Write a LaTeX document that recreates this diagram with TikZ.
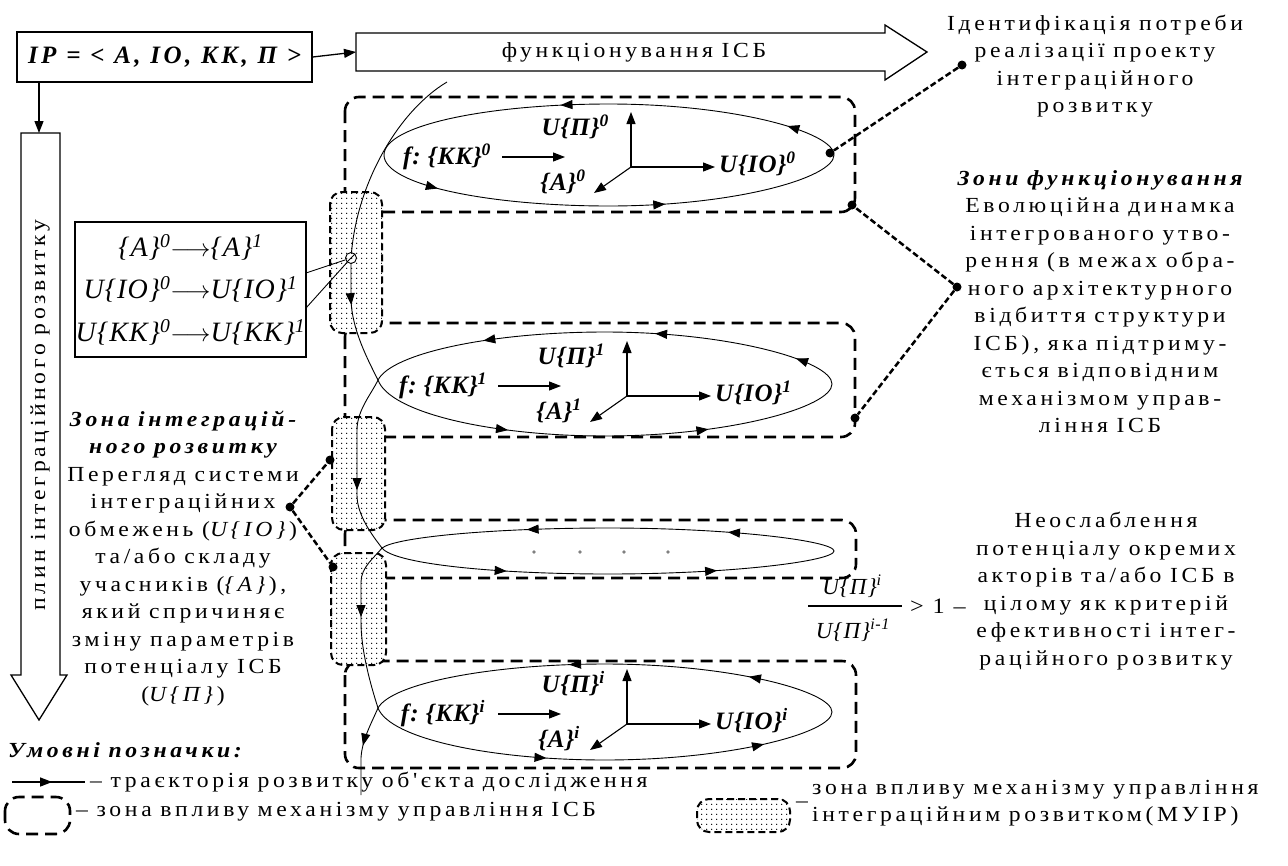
\documentclass[tikz,border=0pt]{standalone}
\usepackage{fontspec}
\setmainfont{Liberation Serif}
\newfontfamily\rf[LetterSpace=17,FakeStretch=1.1,WordSpace=0.9]{Liberation Serif}
\newfontfamily\mf[LetterSpace=14]{Liberation Serif}
\newfontfamily\lf[LetterSpace=4]{Liberation Serif}
\usetikzlibrary{arrows.meta,patterns,decorations.markings}
\pgfdeclarepatternformonly{mydots}{\pgfpointorigin}{\pgfpoint{5pt}{5pt}}{\pgfpoint{5pt}{5pt}}%
  {\pgfpathcircle{\pgfpoint{2pt}{2pt}}{0.8pt}\pgfusepath{fill}}
\newcommand\sps[1]{\textsuperscript{#1}}
\newcommand\loopinside[2]{%
  \node[lab] (fk#2) at (-162,2) {f:~\{KK\}\sps{#1}};
  \coordinate (ka#2) at (-107,2); \coordinate (kb#2) at (-44,2);
  \draw[ax] (ka#2) -- (kb#2);
  \node[lab, anchor=east] (up#2) at (0,-28) {U\{П\}\sps{#1}};
  \coordinate (o#2) at (22,12);
  \coordinate (ov#2) at (22,-43);
  \coordinate (oh#2) at (106,12);
  \coordinate (od#2) at (-15,38);
  \draw[ax] (o#2) -- (ov#2);
  \draw[ax] (o#2) -- (oh#2);
  \draw[ax] (o#2) -- (od#2);
  \node[lab] (a#2) at (-46,27) {\{A\}\sps{#1}};
  \node[lab, anchor=west] (io#2) at (110,9) {U\{IO\}\sps{#1}};
}
\begin{document}
\begin{tikzpicture}[x=1pt,y=-1pt,
  >={Triangle[length=12pt,width=9pt]},
  txt/.style={font=\rf\fontsize{21.5}{27.5}\selectfont, align=center, inner sep=0pt},
  lab/.style={font=\lf\bfseries\itshape\fontsize{25}{26}\selectfont, inner sep=0pt},
  zone/.style={draw, line width=2.6pt, dash pattern=on 12pt off 7pt, rounded corners=14pt},
  mz/.style={draw, line width=2pt, dash pattern=on 7pt off 4pt, rounded corners=12pt, fill=white, postaction={pattern=mydots}},
  traj/.style={line width=0.9pt},
  conn/.style={line width=2.5pt, dash pattern=on 6pt off 3pt},
  dot/.style={circle, fill, inner sep=0pt, minimum size=9pt},
  ax/.style={line width=1.1pt, ->},
  blk/.style={line width=1.3pt},
]
\useasboundingbox (0,0) rectangle (1288,865);

% ---------- top box and block arrows
\node[draw, blk, minimum width=295pt, minimum height=50pt, inner sep=0pt,
      font=\mf\bfseries\itshape\fontsize{25}{25}\selectfont] (ip) at (164.5,57) {IP = < A, IO, KK, П >};
\draw[blk] (356,33) -- (885,33) -- (885,25) -- (927,52) -- (885,80) -- (885,71) -- (356,71) -- cycle;
\node[txt] (fun) at (634,52) {функціонування ІСБ};
\coordinate (funw) at (356,52);
\draw[blk,->] (ip.east) -- (funw);

\draw[blk] (21,133) -- (60,133) -- (60,675) -- (67,675) -- (39,720) -- (11,675) -- (21,675) -- cycle;
\node[txt, rotate=90] (plyn) at (40,415) {плин інтеграційного розвитку};
\coordinate (ipd) at (39,82); \coordinate (plt) at (39,133);
\draw[blk,->] (ipd) -- (plt);

% ---------- dashed zones
\draw[zone] (345,97) rectangle (855,212);
\draw[zone] (345,323) rectangle (855,437);
\draw[zone] (345,520) rectangle (856,578);
\draw[zone] (345,661) rectangle (856,768);

% ---------- MUIR zones
\path[mz] (330,192) rectangle (382,333);
\path[mz] (332,417) rectangle (385,530);
\path[mz] (331,553) rectangle (386,665);

% ---------- transitions box
\node[draw, blk, minimum width=231pt, minimum height=135pt, inner sep=0pt, align=center,
      font=\lf\itshape\fontsize{28}{42.5}\selectfont] (trans) at (190.5,289.5)
 {\{A\}\sps{0}$\longrightarrow$\{A\}\sps{1}\\
  U\{IO\}\sps{0}$\longrightarrow$U\{IO\}\sps{1}\\
  U\{KK\}\sps{0}$\longrightarrow$U\{KK\}\sps{1}};
\node[circle, draw, line width=0.9pt, minimum size=11pt, inner sep=0pt] (cir) at (351,258) {};
\draw[line width=0.8pt] (cir.north east) -- (cir.south west);
\coordinate (tr1) at (306,273); \coordinate (tr2) at (306,308);
\draw[line width=0.9pt] (tr1) -- (cir);
\draw[line width=0.9pt] (tr2) -- (cir);

% ---------- loop 0
\begin{scope}[shift={(609,155)}]
\draw[traj, postaction=decorate, decoration={markings,
  mark=at position 0.07 with {\arrow{>}},
  mark=at position 0.31 with {\arrow{>}},
  mark=at position 0.56 with {\arrow{>}},
  mark=at position 0.80 with {\arrow{>}}}]
 (-225,0) .. controls (-225,30) and (-120,51) .. (0,51)
 .. controls (125,51) and (225,23) .. (225,0)
 .. controls (225,-23) and (125,-51) .. (0,-51)
 .. controls (-120,-51) and (-225,-30) .. (-225,0);
\loopinside{0}{0}
\end{scope}

% ---------- loop 1
\begin{scope}[shift={(605,384)}]
\draw[traj, postaction=decorate, decoration={markings,
  mark=at position 0.15 with {\arrow{>}},
  mark=at position 0.36 with {\arrow{>}},
  mark=at position 0.55 with {\arrow{>}},
  mark=at position 0.70 with {\arrow{>}},
  mark=at position 0.88 with {\arrow{>}}}]
 (-227,-4) .. controls (-215,29) and (-113,52) .. (0,52)
 .. controls (125,52) and (227,23) .. (227,0)
 .. controls (227,-23) and (125,-52) .. (0,-52)
 .. controls (-113,-52) and (-213,-31) .. (-227,-4);
\loopinside{1}{1}
\end{scope}

% ---------- loop C (dots)
\begin{scope}[shift={(608,551)}]
\draw[traj, postaction=decorate, decoration={markings,
  mark=at position 0.14 with {\arrow{>}},
  mark=at position 0.37 with {\arrow{>}},
  mark=at position 0.62 with {\arrow{>}},
  mark=at position 0.84 with {\arrow{>}}}]
 (-226,-3) .. controls (-214,13) and (-113,23) .. (0,23)
 .. controls (124,23) and (226,10) .. (226,0)
 .. controls (226,-10) and (124,-23) .. (0,-23)
 .. controls (-113,-23) and (-212,-14) .. (-226,-3);
\foreach \i/\xx in {1/-74,2/-28,3/16,4/60} \fill[gray] (\xx,1) circle (1.8);
\end{scope}

% ---------- loop i
\begin{scope}[shift={(605,712)}]
\draw[traj, postaction=decorate, decoration={markings,
  mark=at position 0.19 with {\arrow{>}},
  mark=at position 0.42 with {\arrow{>}},
  mark=at position 0.60 with {\arrow{>}},
  mark=at position 0.79 with {\arrow{>}}}]
 (-227,-4) .. controls (-215,27) and (-113,48) .. (0,48)
 .. controls (125,48) and (227,21) .. (227,0)
 .. controls (227,-21) and (125,-48) .. (0,-48)
 .. controls (-113,-48) and (-213,-29) .. (-227,-4);
\loopinside{i}{i}
\end{scope}

% ---------- trajectory connections
\coordinate (t0s) at (447,82);
\coordinate (X1) at (378,380);
\coordinate (XC) at (382,548);
\coordinate (Xi) at (378,708);
\coordinate (tend) at (361,795);
\draw[traj] (t0s) .. controls (400,110) and (358,180) .. (cir);
\draw[traj, postaction=decorate, decoration={markings, mark=at position 0.34 with {\arrow{>}}}]
  (cir.south) -- (351,300) .. controls (352,330) and (368,360) .. (X1);
\draw[traj, postaction=decorate, decoration={markings, mark=at position 0.64 with {\arrow{>}}}]
  (X1) .. controls (372,393) and (357,410) .. (357,430) -- (357,495) .. controls (357,515) and (372,535) .. (XC);
\draw[traj, postaction=decorate, decoration={markings, mark=at position 0.45 with {\arrow{>}}}]
  (XC) .. controls (375,557) and (361,567) .. (361,582) -- (361,622) .. controls (361,650) and (370,683) .. (Xi);
\draw[traj, postaction=decorate, decoration={markings, mark=at position 0.45 with {\arrow{>}}}]
  (Xi) .. controls (371,724) and (362,740) .. (361,758) -- (tend);

% ---------- right texts
\node[txt] (ident) at (1095,66) {Ідентифікація потреби\\реалізації проекту\\інтеграційного\\розвитку};
\node[txt] (zf) at (1100,301.5) {{\bfseries\itshape Зони функціонування}\\Еволюційна динамка\\інтегрованого утво-\\рення (в межах обра-\\ного архітектурного\\відбиття структури\\ІСБ), яка підтриму-\\ється відповідним\\механізмом управ-\\ління ІСБ};
\node[txt] (neo) at (1106,591) {Неослаблення\\потенціалу окремих\\акторів та/або ІСБ в\\цілому як критерій\\ефективності інтег-\\раційного розвитку};

% fraction
\node[font=\lf\itshape\fontsize{23}{23}\selectfont, inner sep=0pt] (num) at (852,586) {U\{П\}\sps{i}};
\node[font=\lf\itshape\fontsize{23}{23}\selectfont, inner sep=0pt] (den) at (853,630) {U\{П\}\sps{i-1}};
\coordinate (fb1) at (808,606); \coordinate (fb2) at (902,606);
\draw[line width=1.2pt] (fb1) -- (fb2);
\node[font=\rf\fontsize{22}{22}\selectfont, anchor=west, inner sep=0pt] (gt) at (910,606) {> 1 –};

% ---------- left text
\node[txt] (zir) at (183,558.5) {{\bfseries\itshape Зона інтеграцій-}\\{\bfseries\itshape ного розвитку}\\Перегляд системи\\інтеграційних\\обмежень (\textit{U\{IO\}})\\та/або складу\\учасників (\textit{\{A\}}),\\який спричиняє\\зміну параметрів\\потенціалу ІСБ\\(\textit{U\{П\}})};

% ---------- dotted connectors
\node[dot] (di1) at (962,65) {};
\node[dot] (di2) at (830,153) {};
\draw[conn] (di1) -- (di2);
\node[dot] (dz) at (957,287) {};
\node[dot] (dzA) at (852,205) {};
\node[dot] (dzB) at (855,418) {};
\draw[conn] (dz) -- (dzA);
\draw[conn] (dz) -- (dzB);
\node[dot] (dl) at (290,507) {};
\node[dot] (dl1) at (330,460) {};
\node[dot] (dl2) at (333,567) {};
\draw[conn] (dl) -- (dl1);
\draw[conn] (dl) -- (dl2);

% ---------- legend
\node[font=\rf\bfseries\itshape\fontsize{21.5}{24}\selectfont, anchor=west, inner sep=0pt] (leg) at (8,750) {Умовні позначки:};
\coordinate (la) at (12,782); \coordinate (lb) at (85,782);
\draw[line width=1.2pt, postaction=decorate, decoration={markings, mark=at position 0.55 with {\arrow{>}}}] (la) -- (lb);
\node[txt, anchor=west] (lt1) at (90,782) {– траєкторія розвитку об'єкта дослідження};
\draw[zone] (5,797) rectangle (70,834);
\node[txt, anchor=west] (lt2) at (76,812) {– зона впливу механізму управління ІСБ};
\path[mz] (697,799) rectangle (790,832);
\node[txt, anchor=west] (lt3) at (796,805) {–};
\node[txt, anchor=west, align=left] (lt4) at (812,803) {зона впливу механізму управління\\інтеграційним розвитком(МУІР)};
\end{tikzpicture}
\end{document}
